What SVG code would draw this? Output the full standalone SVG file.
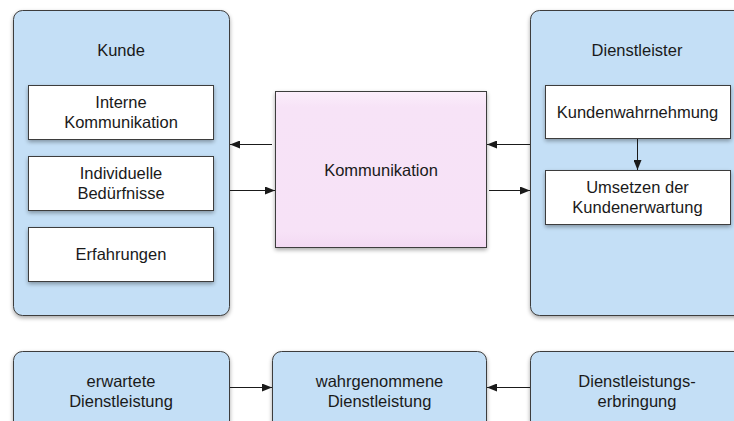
<svg xmlns="http://www.w3.org/2000/svg" width="734" height="421" viewBox="0 0 734 421">
  <style>
    .panel { fill: #c4dff6; stroke: #3d3d3d; stroke-width: 1; }
    .box { fill: #ffffff; stroke: #3d3d3d; stroke-width: 1; }
    .flow { fill: #c4dff6; stroke: #3d3d3d; stroke-width: 1; }
    .hub { fill: url(#hubFill); stroke: #3d3d3d; stroke-width: 1; }
    .shadow { filter: url(#drop); }
    text { font-family: "Liberation Sans", Arial, sans-serif; font-size: 16.5px; fill: #1a1a1a; text-anchor: middle; }
    .link { stroke: #1a1a1a; stroke-width: 1; fill: none; marker-end: url(#arrow); }
  </style>
  <defs>
    <linearGradient id="hubFill" x1="0" y1="0" x2="0" y2="1">
      <stop offset="0" stop-color="#fbeefb"/>
      <stop offset="0.1" stop-color="#f7e3f7"/>
      <stop offset="0.9" stop-color="#f7e2f7"/>
      <stop offset="1" stop-color="#f3d9f3"/>
    </linearGradient>
    <filter id="drop" x="-10%" y="-10%" width="120%" height="130%">
      <feGaussianBlur in="SourceAlpha" stdDeviation="2"/>
      <feOffset dx="0" dy="2" result="b"/>
      <feComponentTransfer><feFuncA type="linear" slope="0.35"/></feComponentTransfer>
      <feMerge><feMergeNode/><feMergeNode in="SourceGraphic"/></feMerge>
    </filter>
    <marker id="arrow" viewBox="0 0 10 8" refX="10" refY="4" markerWidth="10" markerHeight="8" markerUnits="userSpaceOnUse" orient="auto">
      <path d="M0,0 L10,4 L0,8 Z" fill="#1a1a1a"/>
    </marker>
  </defs>

  <!-- customer side -->
  <g id="kunde">
    <rect class="panel shadow" x="13.5" y="10.5" width="216" height="305" rx="9"/>
    <text x="121" y="56">Kunde</text>
  </g>
  <g id="interne-kommunikation">
    <rect class="box shadow" x="28.5" y="85.5" width="185" height="54"/>
    <text x="121" y="108">Interne</text>
    <text x="121" y="128">Kommunikation</text>
  </g>
  <g id="individuelle-beduerfnisse">
    <rect class="box shadow" x="28.5" y="156.5" width="185" height="54"/>
    <text x="121" y="179">Individuelle</text>
    <text x="121" y="199">Bedürfnisse</text>
  </g>
  <g id="erfahrungen">
    <rect class="box shadow" x="28.5" y="227.5" width="185" height="54"/>
    <text x="121" y="260">Erfahrungen</text>
  </g>

  <!-- central communication -->
  <g id="kommunikation">
    <rect class="hub shadow" x="275.5" y="91.5" width="211" height="156"/>
    <text x="381" y="176">Kommunikation</text>
  </g>

  <!-- provider side -->
  <g id="dienstleister">
    <rect class="panel shadow" x="530.5" y="10.5" width="220" height="305" rx="9"/>
    <text x="637" y="56">Dienstleister</text>
  </g>
  <g id="kundenwahrnehmung">
    <rect class="box shadow" x="545.5" y="85.5" width="185" height="53"/>
    <text x="637.5" y="118">Kundenwahrnehmung</text>
  </g>
  <g id="umsetzen">
    <rect class="box shadow" x="545.5" y="170.5" width="185" height="54"/>
    <text x="637.5" y="193">Umsetzen der</text>
    <text x="637.5" y="213">Kundenerwartung</text>
  </g>

  <!-- service chain -->
  <g id="erwartete-dienstleistung">
    <rect class="flow shadow" x="13.5" y="351.5" width="216" height="80" rx="9"/>
    <text x="121" y="387">erwartete</text>
    <text x="121" y="407">Dienstleistung</text>
  </g>
  <g id="wahrgenommene-dienstleistung">
    <rect class="flow shadow" x="272.5" y="351.5" width="214" height="80" rx="9"/>
    <text x="379.5" y="387">wahrgenommene</text>
    <text x="379.5" y="407">Dienstleistung</text>
  </g>
  <g id="dienstleistungserbringung">
    <rect class="flow shadow" x="530.5" y="351.5" width="220" height="80" rx="9"/>
    <text x="637" y="387">Dienstleistungs-</text>
    <text x="637" y="407">erbringung</text>
  </g>

  <!-- connectors -->
  <g id="connectors">
    <line class="link" x1="272" y1="144.5" x2="230" y2="144.5"/>
    <line class="link" x1="230" y1="190.5" x2="275" y2="190.5"/>
    <line class="link" x1="530" y1="144.5" x2="487" y2="144.5"/>
    <line class="link" x1="489" y1="190.5" x2="530" y2="190.5"/>
    <line class="link" x1="637.5" y1="139" x2="637.5" y2="170"/>
    <line class="link" x1="230" y1="387.5" x2="272" y2="387.5"/>
    <line class="link" x1="530" y1="387.5" x2="487" y2="387.5"/>
  </g>
</svg>
